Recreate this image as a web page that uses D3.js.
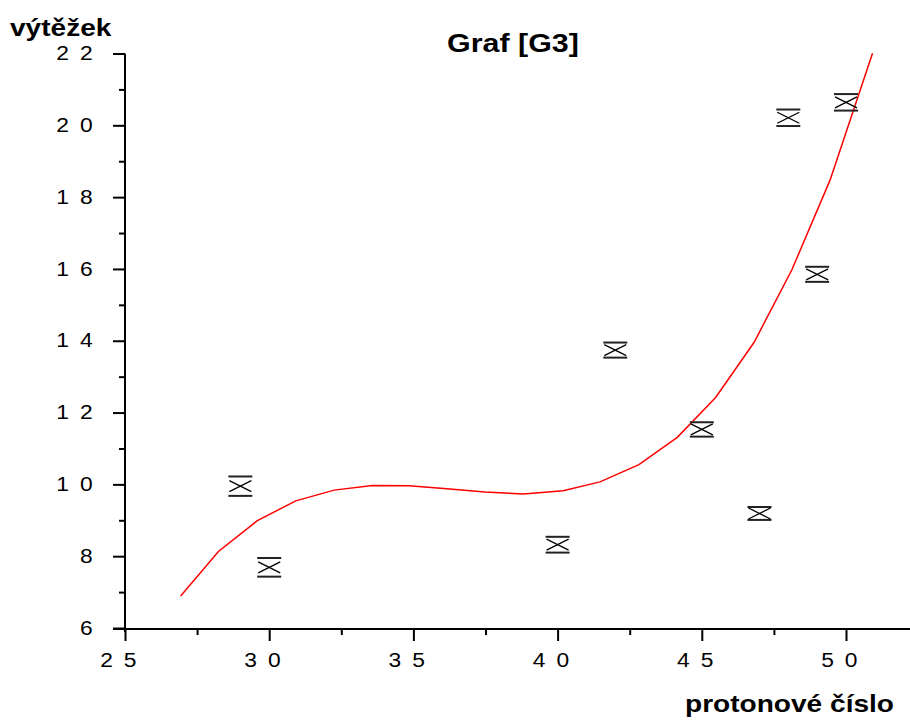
<!DOCTYPE html>
<html><head><meta charset="utf-8">
<script src="https://cdn.jsdelivr.net/npm/d3@7"></script>
<style>
html,body{margin:0;padding:0;background:#fff;}
svg{display:block;font-family:"Liberation Sans",Arial,sans-serif;}
</style></head>
<body>
<svg id="chart" width="910" height="720"></svg>
<script>
// ---- data ----
const title = "Graf [G3]";
const yTitle = "výtěžek";
const xTitle = "protonové číslo";
const pointX = [29, 30, 40, 42, 45, 47, 48, 49, 50];
const pointY = [9.95, 7.69, 8.32, 13.74, 11.53, 9.19, 20.21, 15.85, 20.64];
const pointErr = [0.27, 0.26, 0.22, 0.21, 0.20, 0.18, 0.23, 0.21, 0.23];
const curveX = [26.93, 28.24, 29.59, 30.92, 32.25, 33.58, 34.85, 36.16, 37.48, 38.81, 40.19, 41.47, 42.82, 44.15, 45.48, 46.81, 48.12, 49.45, 50.92];
const curveY = [6.89, 8.13, 8.99, 9.54, 9.84, 9.97, 9.96, 9.88, 9.79, 9.73, 9.82, 10.07, 10.55, 11.31, 12.42, 13.95, 15.97, 18.48, 22.01];
const xMajor = [25, 30, 35, 40, 45, 50];
const xMinor = [27.5, 32.5, 37.5, 42.5, 47.5];
const yMajor = [6, 8, 10, 12, 14, 16, 18, 20, 22];
const yMinor = [7, 9, 11, 13, 15, 17, 19, 21];

// ---- drawing ----
const svg = d3.select("#chart");
const SX = 1.17; // horizontal text stretch
const x = d3.scaleLinear().domain([25, 50]).range([125, 846]);
const y = d3.scaleLinear().domain([6, 22]).range([628, 53.5]);
const spaced = d => String(d).split("").join(" ");

// axis lines
svg.append("line").attr("x1", x(25) - 12).attr("x2", 910)
  .attr("y1", y(6) + 1).attr("y2", y(6) + 1)
  .attr("stroke", "#000").attr("stroke-width", 2);
svg.append("line").attr("x1", x(25)).attr("x2", x(25))
  .attr("y1", y(22)).attr("y2", y(6) + 4)
  .attr("stroke", "#000").attr("stroke-width", 2);

// x axis ticks
const gxMinor = svg.append("g").attr("transform", `translate(0,${y(6) + 1})`)
  .call(d3.axisBottom(x).tickValues(xMinor).tickSize(6).tickSizeOuter(0).tickFormat(""));
const gx = svg.append("g").attr("transform", `translate(0,${y(6) + 1})`)
  .call(d3.axisBottom(x).tickValues(xMajor).tickSize(12).tickSizeOuter(0).tickPadding(12).tickFormat(spaced));
// y axis ticks
const gyMinor = svg.append("g").attr("transform", `translate(${x(25)},0)`)
  .call(d3.axisLeft(y).tickValues(yMinor).tickSize(6).tickSizeOuter(0).tickFormat(""));
const gy = svg.append("g").attr("transform", `translate(${x(25)},0)`)
  .call(d3.axisLeft(y).tickValues(yMajor).tickSize(12).tickSizeOuter(0).tickPadding(20).tickFormat(spaced));

[gxMinor, gx, gyMinor, gy].forEach(g => {
  g.select(".domain").remove();
  g.selectAll(".tick line").attr("stroke", "#000").attr("stroke-width", 2);
});
gx.selectAll(".tick text")
  .attr("font-size", 19.5).attr("fill", "#000").attr("letter-spacing", 2)
  .attr("font-family", "Liberation Sans, Arial, sans-serif")
  .attr("x", -6 / SX)
  .attr("transform", `scale(${SX},1)`);
gy.selectAll(".tick text")
  .attr("font-size", 19.5).attr("fill", "#000").attr("letter-spacing", 2)
  .attr("font-family", "Liberation Sans, Arial, sans-serif")
  .attr("x", -30 / SX)
  .attr("transform", `scale(${SX},1)`);

// curve
const line = d3.line().x((d, i) => x(curveX[i])).y((d, i) => y(curveY[i]));
svg.append("path").datum(curveY).attr("d", line)
  .attr("fill", "none").attr("stroke", "#ff0000").attr("stroke-width", 1.5);

// points with error bars and X markers
const hw = 12, mw = 11, mh = 5.5;
const pts = svg.append("g").selectAll("g").data(pointX).join("g")
  .attr("transform", (d, i) => `translate(${x(d)},${y(pointY[i])})`);
pts.each(function (d, i) {
  const g = d3.select(this);
  const top = y(pointY[i] + pointErr[i]) - y(pointY[i]);
  const bot = y(pointY[i] - pointErr[i]) - y(pointY[i]);
  g.append("line").attr("x1", -hw).attr("x2", hw).attr("y1", top).attr("y2", top)
    .attr("stroke", "#222").attr("stroke-width", 2);
  g.append("line").attr("x1", -hw).attr("x2", hw).attr("y1", bot).attr("y2", bot)
    .attr("stroke", "#222").attr("stroke-width", 2);
  g.append("line").attr("x1", 0).attr("x2", 0).attr("y1", top).attr("y2", Math.min(-mh, top + 0.01))
    .attr("stroke", "#000").attr("stroke-width", 1.2);
  g.append("line").attr("x1", 0).attr("x2", 0).attr("y1", Math.max(mh, bot - 0.01)).attr("y2", bot)
    .attr("stroke", "#000").attr("stroke-width", 1.2);
  g.append("line").attr("x1", -mw).attr("x2", mw).attr("y1", -mh).attr("y2", mh)
    .attr("stroke", "#000").attr("stroke-width", 1.3);
  g.append("line").attr("x1", mw).attr("x2", -mw).attr("y1", -mh).attr("y2", mh)
    .attr("stroke", "#000").attr("stroke-width", 1.3);
});

// texts
function stretchedText(str, tx, ty, size, anchor) {
  svg.append("text").text(str)
    .attr("transform", `translate(${tx},${ty}) scale(${SX},1)`)
    .attr("text-anchor", anchor).attr("font-size", size)
    .attr("font-weight", "bold").attr("fill", "#000");
}
stretchedText(title, 513, 52, 26, "middle");
stretchedText(yTitle, 10, 36, 24, "start");
stretchedText(xTitle, 894, 712, 24, "end");
</script>
</body></html>
